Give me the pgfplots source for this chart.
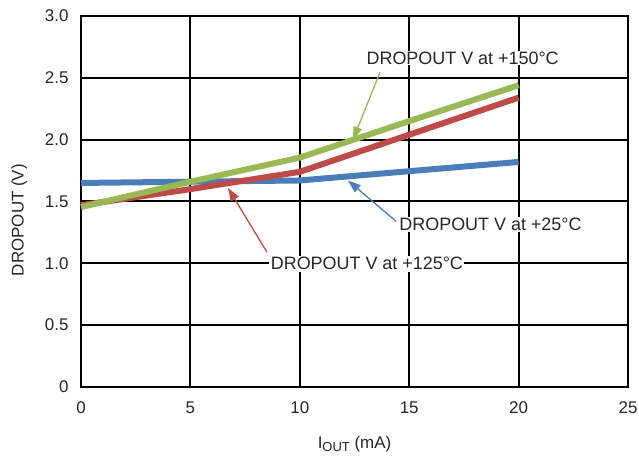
\documentclass[border=0pt]{standalone}
\usepackage{fontspec}
\setmainfont{Liberation Sans}
\usepackage{pgfplots}
\pgfplotsset{compat=1.18}
\usetikzlibrary{arrows.meta}
\definecolor{cblue}{HTML}{4A7EBB}
\definecolor{cred}{HTML}{BE4B48}
\definecolor{cgreen}{HTML}{98B954}
\begin{document}
\begin{tikzpicture}
\useasboundingbox (0,0) rectangle (639bp,461bp);
\begin{axis}[
  at={(81bp,74bp)}, anchor=south west,
  scale only axis, width=547bp, height=371bp,
  xmin=0, xmax=25, ymin=0, ymax=3,
  xtick={0,5,10,15,20,25},
  xticklabels={0,5,10,15,20,25},
  ytick={0,0.5,1,1.5,2,2.5,3},
  yticklabels={0,0.5,1.0,1.5,2.0,2.5,3.0},
  /pgf/number format/assume math mode=true,
  grid=major,
  grid style={black, line width=2bp},
  axis line style={black, line width=2bp},
  major tick length=0pt,
  tick label style={font=\fontsize{17}{19}\selectfont, text=black!85},
  xticklabel style={anchor=center, yshift=-21bp},
  yticklabel style={anchor=east, xshift=-9bp},
  xlabel={I\raisebox{-3.5bp}{\fontsize{13}{13}\selectfont OUT} (mA)},
  ylabel={DROPOUT (V)},
  label style={font=\fontsize{17}{19}\selectfont, text=black!85},
  xlabel style={at={(axis description cs:0.5,0)}, anchor=center, yshift=-57bp},
  ylabel style={at={(axis description cs:-0.113,0.45)}, anchor=center},
  clip=false,
]
\addplot[cblue, line width=6bp] coordinates {(0,1.65) (5,1.66) (10,1.67) (15,1.745) (20,1.82)};
\addplot[cred, line width=6bp] coordinates {(0,1.47) (5,1.60) (10,1.74) (15,2.04) (20,2.34)};
\addplot[cgreen, line width=6bp] coordinates {(0,1.455) (5,1.66) (10,1.855) (15,2.15) (20,2.44)};

\node[font=\fontsize{18}{20}\selectfont, text=black!85, anchor=base west, fill=white, inner sep=1bp] at (axis cs:13.0,2.61) {DROPOUT V at +150°C};
\draw[cgreen, line width=1.3bp, -{Triangle[length=13bp,width=9bp]}] (axis cs:13.67,2.547) -- (axis cs:12.43,2.0);

\node[font=\fontsize{18}{20}\selectfont, text=black!85, anchor=base west, fill=white, inner sep=1bp] at (axis cs:14.5,1.265) {DROPOUT V at +25°C};
\draw[cblue, line width=1.3bp, -{Triangle[length=13bp,width=9bp]}] (axis cs:14.4,1.34) -- (axis cs:12.2,1.67);

\node[font=\fontsize{18}{20}\selectfont, text=black!85, anchor=base west, fill=white, inner sep=1.5bp] at (axis cs:8.6,0.947) {DROPOUT V at +125°C};
\draw[cred, line width=1.3bp, -{Triangle[length=13bp,width=9bp]}] (axis cs:8.5,1.09) -- (axis cs:6.72,1.61);
\end{axis}
\end{tikzpicture}
\end{document}
